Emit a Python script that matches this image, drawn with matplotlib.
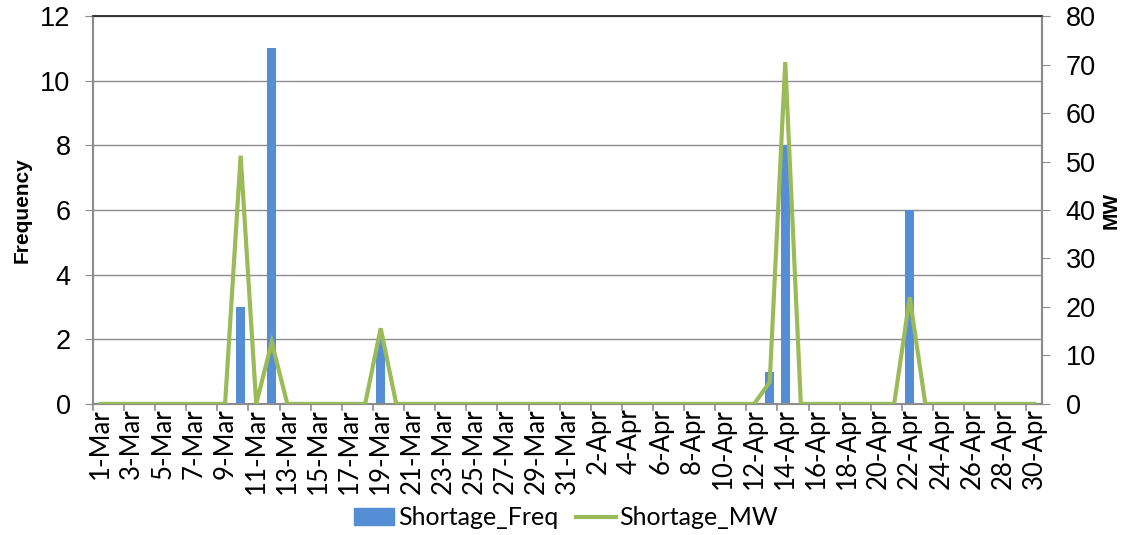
import numpy as np
import matplotlib.pyplot as plt
from matplotlib.patches import Patch
from matplotlib.lines import Line2D

plt.rcParams['font.family'] = ['Liberation Sans', 'DejaVu Sans']

# 1-Mar .. 30-Apr
days_mar = [f"{d}-Mar" for d in range(1, 32)]
days_apr = [f"{d}-Apr" for d in range(1, 31)]
dates = days_mar + days_apr

# non-zero values only, everything else is 0
freq_vals = {"10-Mar": 3, "12-Mar": 11, "19-Mar": 2,
             "13-Apr": 1, "14-Apr": 8, "22-Apr": 6}
mw_vals = {"10-Mar": 51.2, "12-Mar": 12.7, "19-Mar": 15.6,
           "13-Apr": 4.5, "14-Apr": 70.5, "22-Apr": 22.0}

shortage_freq = [freq_vals.get(d, 0) for d in dates]
shortage_mw = [mw_vals.get(d, 0) for d in dates]

BLUE = '#558ED5'
GREEN = '#9BBB59'
GRID = '#8C8C8C'

fig = plt.figure(figsize=(11.32, 5.35), dpi=100)
ax = fig.add_axes([0.082, 0.245, 0.8385, 0.725])
ax2 = ax.twinx()

x = np.arange(len(dates))
ax.bar(x, shortage_freq, width=0.58, color=BLUE, zorder=2)
ax2.plot(x, shortage_mw, color=GREEN, lw=3, zorder=3, solid_joinstyle='miter')

ax.set_xlim(-0.5, len(dates) - 0.5)
ax.set_ylim(0, 12)
ax.set_yticks(range(0, 13, 2))
ax2.set_ylim(0, 80)
ax2.set_yticks(range(0, 81, 10))
ax.yaxis.grid(True, color=GRID, lw=1)
ax.set_axisbelow(True)

# category labels every other day, ticks at category boundaries
ax.set_xticks(x[::2])
ax.set_xticklabels(dates[::2], rotation=90, fontsize=18.5, family='Lato')
ax.tick_params(axis='x', length=0, pad=3)
for b in np.arange(-0.5, len(dates), 2):
    ax.plot([b, b], [0, -0.18], color=GRID, lw=1.2, clip_on=False, zorder=1)

ax.tick_params(axis='y', length=6, color=GRID, labelsize=19.5, pad=10)
ax2.tick_params(axis='y', length=6, color=GRID, labelsize=19.5, pad=11)

for a in (ax, ax2):
    for s in ('left', 'right', 'bottom'):
        a.spines[s].set_color(GRID)
        a.spines[s].set_linewidth(1.5)
    a.spines['top'].set_color('#333333')
    a.spines['top'].set_linewidth(1.2)

ax.set_ylabel('Frequency', fontsize=15, fontweight='bold', labelpad=6)
ax2.set_ylabel('MW', fontsize=15, fontweight='bold', labelpad=4)

handles = [Patch(color=BLUE), Line2D([0], [0], color=GREEN, lw=3)]
fig.legend(handles, ['Shortage_Freq', 'Shortage_MW'], loc='center',
           bbox_to_anchor=(0.50, 0.032), ncol=2, frameon=False,
           prop={'family': 'Lato', 'size': 18}, handlelength=1.6,
           handletextpad=0.15, columnspacing=0.7)

fig.savefig('out.png', dpi=100)
